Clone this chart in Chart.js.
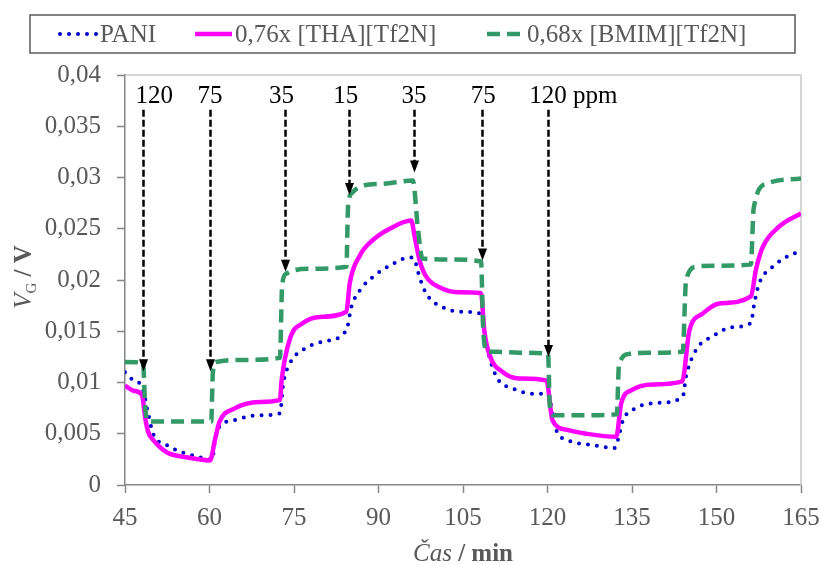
<!DOCTYPE html>
<html>
<head>
<meta charset="utf-8">
<script src="https://cdn.jsdelivr.net/npm/chart.js@4.4.1/dist/chart.umd.min.js"></script>
<style>
  html, body { margin: 0; padding: 0; background: #fff; }
  #wrap { width: 822px; height: 564px; position: relative; }
</style>
</head>
<body>
<div id="wrap"><canvas id="sensorChart"></canvas></div>
<script>
// --- data ---
const seriesLabels = ['PANI', '0,76x [THA][Tf2N]', '0,68x [BMIM][Tf2N]'];

const paniTimes = [45, 46.5, 48.0, 49.1, 50.0, 52.4, 54.8, 57.7, 60.5, 61.0, 61.8, 64.2, 68.9, 72.5, 73.1, 74.3, 76.6, 80.2, 84.3, 85.2, 86.7, 89, 92, 95.5, 96.3, 97.0, 98.0, 99.1, 100.8, 104.4, 108.2, 109.1, 110.9, 113.9, 117.7, 120.0, 121.5, 124.5, 128, 131.9, 132.5, 133.4, 135.7, 139.3, 144, 144.6, 146.4, 149.3, 152.9, 156.1, 156.7, 157.6, 160, 162.9, 165];
const paniValues = [0.0110, 0.0102, 0.0096, 0.0070, 0.0050, 0.0039, 0.00325, 0.0028, 0.0025, 0.0045, 0.0057, 0.0063, 0.0068, 0.0070, 0.0099, 0.0119, 0.0132, 0.0140, 0.0151, 0.0174, 0.0190, 0.0203, 0.0214, 0.0222, 0.0221, 0.0208, 0.0192, 0.0182, 0.0175, 0.0169, 0.0167, 0.0138, 0.0106, 0.0094, 0.0089, 0.0089, 0.0054, 0.0042, 0.0039, 0.0036, 0.0044, 0.0063, 0.0075, 0.0080, 0.0086, 0.0106, 0.0132, 0.0145, 0.0154, 0.0158, 0.0177, 0.0197, 0.0213, 0.0224, 0.0228];

const thaTimes = [45, 46.5, 48.0, 48.6, 49.1, 50.0, 52.4, 55.9, 60.1, 61.0, 61.8, 64.2, 68.9, 72.5, 72.8, 74.3, 76.6, 79.6, 84.3, 84.9, 86.7, 89, 92, 95.8, 96.5, 97.3, 98.5, 100.8, 104.4, 108.2, 108.8, 109.7, 112.1, 115, 119.8, 120.9, 123.3, 126.9, 132.2, 133.1, 135.1, 138.7, 143.9, 145.2, 147.5, 150.5, 156.1, 157, 158.2, 161.1, 165];
const thaValues = [0.0097, 0.0092, 0.0088, 0.0065, 0.0052, 0.0044, 0.0032, 0.0027, 0.0024, 0.0045, 0.0062, 0.0074, 0.0081, 0.0083, 0.0102, 0.0143, 0.0158, 0.0164, 0.0169, 0.0197, 0.0224, 0.0239, 0.0250, 0.0258, 0.0240, 0.0219, 0.0203, 0.0193, 0.0188, 0.0187, 0.0150, 0.0127, 0.0110, 0.0104, 0.0102, 0.0063, 0.0054, 0.0050, 0.0047, 0.0080, 0.0093, 0.0098, 0.0101, 0.0151, 0.0167, 0.0177, 0.0184, 0.0210, 0.0232, 0.0252, 0.0265];

const bmimTimes = [45, 48.2, 48.6, 49.2, 55, 60.3, 60.6, 61.2, 66, 72.5, 72.9, 73.6, 78, 84.3, 84.6, 85.3, 87.2, 91, 96.1, 97.0, 97.8, 103, 108.2, 108.6, 109.3, 110.9, 115, 120.1, 120.4, 121, 126, 132.3, 132.7, 134.6, 138, 144.0, 144.6, 146.4, 150, 156.1, 156.6, 158.9, 165];
const bmimValues = [0.0120, 0.0119, 0.0075, 0.0062, 0.0062, 0.0062, 0.0110, 0.0120, 0.0122, 0.0124, 0.0195, 0.0206, 0.0211, 0.0213, 0.0272, 0.0285, 0.0292, 0.0294, 0.0297, 0.0250, 0.0221, 0.0220, 0.0218, 0.0150, 0.0130, 0.0130, 0.0129, 0.0128, 0.0078, 0.0068, 0.0068, 0.0069, 0.0118, 0.0128, 0.0129, 0.0130, 0.0200, 0.0213, 0.0214, 0.0215, 0.0270, 0.0294, 0.0299];

// concentration steps marked with arrows
const arrowLabels = ['120', '75', '35', '15', '35', '75', '120'];
const arrowTimes = [48.2, 60.0, 73.4, 84.7, 96.3, 108.3, 120.1];
const arrowTips = [0.0111, 0.0111, 0.0208, 0.0283, 0.0305, 0.0219, 0.0125];
const labelTimes = [50.2, 60.1, 72.8, 84.2, 96.3, 108.6, 120.1];
const arrowTop = 0.0366;
const unitLabel = 'ppm';

const xTicks = [45, 60, 75, 90, 105, 120, 135, 150, 165];

function toPoints(times, values) {
  return times.map((t, i) => ({ x: t, y: values[i] }));
}

function commaNum(v) {
  return String(Math.round(v * 100000) / 100000).replace('.', ',');
}

const SERIF = '"Liberation Serif", "Times New Roman", serif';

const decorations = {
  id: 'decorations',
  beforeDatasetsDraw(chart) {
    const { ctx, chartArea: a } = chart;
    ctx.save();
    ctx.strokeStyle = '#c8c8c8';
    ctx.lineWidth = 1.5;
    ctx.beginPath();
    ctx.moveTo(a.left, a.top);
    ctx.lineTo(a.right, a.top);
    ctx.lineTo(a.right, a.bottom);
    ctx.stroke();
    ctx.restore();
  },
  afterDatasetsDraw(chart) {
    const { ctx } = chart;
    const xs = chart.scales.x, ys = chart.scales.y;
    ctx.save();
    ctx.strokeStyle = '#000';
    ctx.fillStyle = '#000';
    ctx.font = '25px ' + SERIF;
    ctx.textAlign = 'center';
    ctx.textBaseline = 'alphabetic';
    arrowTimes.forEach((t, i) => {
      const px = Math.round(xs.getPixelForValue(t)) + 0.5;
      const top = ys.getPixelForValue(arrowTop);
      const tip = ys.getPixelForValue(arrowTips[i]);
      ctx.lineWidth = 2.5;
      ctx.setLineDash([7, 3]);
      ctx.beginPath();
      ctx.moveTo(px, top);
      ctx.lineTo(px, tip - 10);
      ctx.stroke();
      ctx.setLineDash([]);
      ctx.beginPath();
      ctx.moveTo(px - 4.5, tip - 12);
      ctx.lineTo(px + 4.5, tip - 12);
      ctx.lineTo(px, tip);
      ctx.closePath();
      ctx.fill();

      const lx = xs.getPixelForValue(labelTimes[i]);
      ctx.fillText(arrowLabels[i], lx, top - 7);
      if (i === arrowTimes.length - 1) {
        ctx.textAlign = 'left';
        ctx.fillText(unitLabel, lx + ctx.measureText(arrowLabels[i]).width / 2 + ctx.measureText(' ').width, top - 7);
        ctx.textAlign = 'center';
      }
    });
    ctx.restore();
  },
  afterDraw(chart) {
    const { ctx } = chart;
    ctx.save();

    // legend box
    ctx.strokeStyle = '#595959';
    ctx.lineWidth = 1.5;
    ctx.strokeRect(30, 15, 765, 38);
    const sampleX = [60, 195, 487];
    chart.data.datasets.forEach((ds, i) => {
      ctx.save();
      ctx.strokeStyle = ds.borderColor;
      ctx.lineWidth = ds.borderWidth;
      ctx.lineCap = ds.borderCapStyle || 'butt';
      ctx.setLineDash(ds.borderDash || []);
      ctx.beginPath();
      ctx.moveTo(sampleX[i], 34);
      ctx.lineTo(sampleX[i] + 37, 34);
      ctx.stroke();
      ctx.restore();
      ctx.fillStyle = '#595959';
      ctx.font = '25px ' + SERIF;
      ctx.textAlign = 'left';
      ctx.textBaseline = 'middle';
      ctx.fillText(ds.label, sampleX[i] + 40, 35);
    });

    // axis titles with mixed styles
    ctx.fillStyle = '#595959';
    ctx.textBaseline = 'alphabetic';
    ctx.textAlign = 'left';
    const drawParts = (parts, cx, cy) => {
      let w = 0;
      parts.forEach(p => { ctx.font = p.font; w += ctx.measureText(p.t).width; });
      let x = cx - w / 2;
      parts.forEach(p => {
        ctx.font = p.font;
        ctx.fillText(p.t, x, cy + (p.dy || 0));
        x += ctx.measureText(p.t).width;
      });
    };
    drawParts([
      { t: 'Č', font: 'italic 25px ' + SERIF },
      { t: 'as', font: 'italic 25px ' + SERIF },
      { t: ' / min', font: 'bold 25px ' + SERIF }
    ], 463, 561);

    ctx.translate(31, 277);
    ctx.rotate(-Math.PI / 2);
    drawParts([
      { t: 'V', font: 'italic 25px ' + SERIF },
      { t: 'G', font: '15px ' + SERIF, dy: 5 },
      { t: ' / V', font: 'bold 25px ' + SERIF }
    ], 0, 0);
    ctx.restore();
  }
};

new Chart(document.getElementById('sensorChart'), {
  type: 'line',
  data: {
    datasets: [
      {
        label: seriesLabels[0],
        data: toPoints(paniTimes, paniValues),
        borderColor: '#0000cc',
        borderWidth: 4,
        borderDash: [0, 9],
        borderCapStyle: 'round',
        order: 3
      },
      {
        label: seriesLabels[1],
        data: toPoints(thaTimes, thaValues),
        borderColor: '#ff00ff',
        borderWidth: 4.5,
        borderJoinStyle: 'round',
        order: 2
      },
      {
        label: seriesLabels[2],
        data: toPoints(bmimTimes, bmimValues),
        borderColor: '#339966',
        borderWidth: 4.5,
        borderDash: [13, 7],
        order: 1
      }
    ]
  },
  options: {
    responsive: true,
    maintainAspectRatio: false,
    animation: false,
    layout: { padding: { top: 75, right: 21, left: 0, bottom: 0 } },
    elements: {
      point: { radius: 0 },
      line: { tension: 0, cubicInterpolationMode: 'monotone', fill: false }
    },
    plugins: {
      legend: { display: false },
      tooltip: { enabled: false }
    },
    scales: {
      x: {
        type: 'linear',
        min: 45,
        max: 165,
        afterBuildTicks(scale) {
          scale.ticks = xTicks.map(v => ({ value: v }));
        },
        afterFit(scale) {
          scale.height = 79;
          scale.paddingLeft = 0;
          scale.paddingRight = 0;
        },
        border: { color: '#868686', width: 1.5 },
        grid: { drawOnChartArea: false, drawTicks: true, tickLength: 8, tickColor: '#868686', tickWidth: 1.5 },
        ticks: {
          color: '#595959',
          padding: 10,
          maxRotation: 0,
          font: { family: SERIF, size: 25 }
        }
      },
      y: {
        min: 0,
        max: 0.04,
        afterFit(scale) {
          scale.width = 125;
          scale.paddingTop = 0;
          scale.paddingBottom = 0;
        },
        border: { color: '#868686', width: 1.5 },
        grid: { drawOnChartArea: false, drawTicks: true, tickLength: 8, tickColor: '#868686', tickWidth: 1.5 },
        ticks: {
          stepSize: 0.005,
          color: '#595959',
          padding: 16,
          font: { family: SERIF, size: 25 },
          callback: v => commaNum(v)
        }
      }
    }
  },
  plugins: [decorations]
});
</script>
</body>
</html>
